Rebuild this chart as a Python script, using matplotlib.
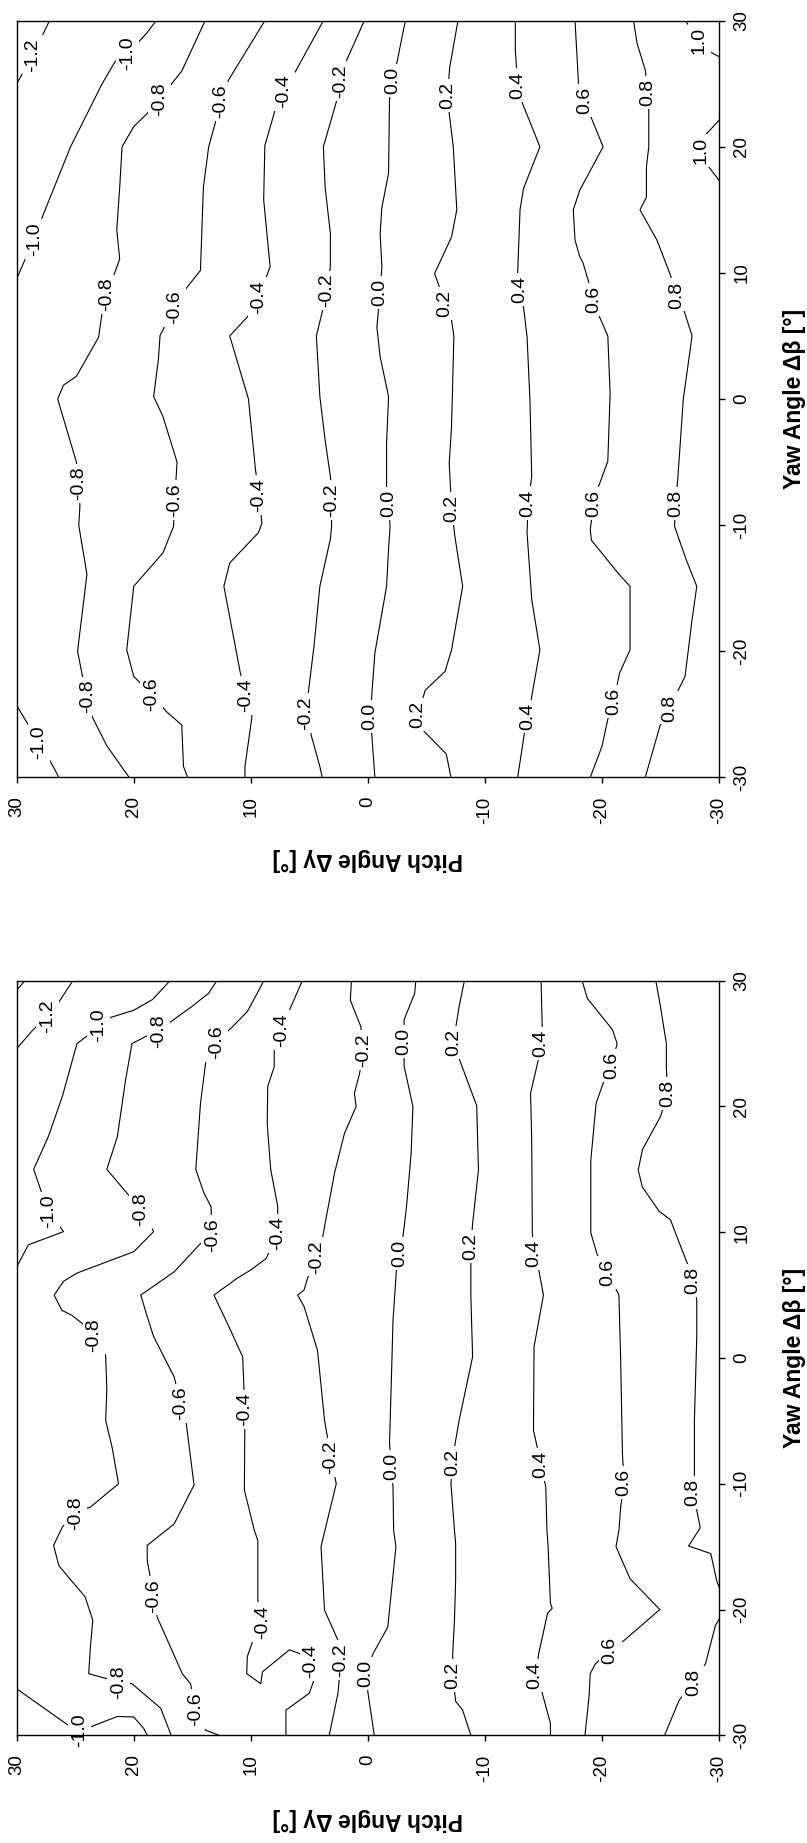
import matplotlib
matplotlib.use("Agg")
import matplotlib.pyplot as plt

plt.rcParams['font.family'] = ['Liberation Sans', 'DejaVu Sans']
plt.rcParams['axes.unicode_minus'] = False

# ---------------------------------------------------------------------------
# Axis ticks
pitch_ticks = [30, 20, 10, 0, -10, -20, -30]
yaw_ticks = [-30, -20, -10, 0, 10, 20, 30]

# ---------------------------------------------------------------------------
# Upper map: isolines of the coefficient, vertices as (yaw, pitch) in degrees
upper_levels = [-1.2, -1.0, -1.0, -0.8, -0.6, -0.4, -0.2, 0.0, 0.2, 0.4, 0.6, 0.8, 1.0, 1.0]
upper_lines = [
    [(30, 27.2), (25, 30)],
    [(30, 18.1), (29.0, 18.9), (26.75, 21.6), (25, 22.7), (20, 25.4), (14.7, 27.7), (10.2, 29.7), (9.5, 30)],
    [(-24.3, 30), (-25.4, 29.3), (-28.6, 27.2), (-30, 26.4)],
    [(30, 13.9), (26, 15.9), (22.6, 18.9), (21.6, 20.0), (20, 21.0), (16.8, 21.2), (13.4, 21.45), (11.1, 21.2),
     (6.9, 22.7), (4.9, 23.0), (1.8, 24.9), (1.1, 26.0), (0, 26.5), (-5, 24.9), (-8.5, 24.6), (-10, 24.7),
     (-13.9, 24.0), (-20, 24.8), (-21.9, 24.4), (-25.3, 23.5), (-27.5, 22.3), (-30, 20.4)],
    [(30, 8.8), (25.3, 11.9), (21.85, 13.05), (20, 13.6), (16.8, 14.05), (10.2, 14.3), (8.8, 15.5), (5.85, 17.3),
     (5.05, 17.75), (3.1, 17.9), (0.2, 18.3), (-1.4, 17.5), (-5, 16.3), (-10.1, 16.6), (-12.2, 17.5),
     (-14.85, 20.0), (-19.9, 20.6), (-22.0, 20.0), (-24.8, 17.2), (-25.85, 15.9), (-29.15, 15.75), (-30, 15.4)],
    [(30, 3.8), (25.95, 6.2), (23.0, 7.9), (20.1, 8.8), (15.8, 8.9), (10.5, 8.35), (6.5, 10.3), (5, 11.8),
     (0, 10.2), (-5.6, 9.6), (-9.85, 9.05), (-10.6, 9.35), (-13.0, 11.8), (-14.85, 12.3), (-21.7, 10.9),
     (-25.2, 9.9), (-29.15, 10.5), (-30, 10.5)],
    [(30, 0.3), (26.9, 1.8), (23.7, 2.65), (20, 3.8), (16.8, 3.65), (13.1, 3.2), (10.5, 3.2), (6.9, 3.9),
     (5, 4.4), (0.2, 4.1), (-3.25, 3.65), (-6.15, 3.2), (-10.1, 3.1), (-11.1, 3.2), (-14.85, 4.1),
     (-19.6, 4.6), (-26.8, 4.8), (-29.15, 4.1), (-30, 3.9)],
    [(30, -3.2), (26.75, -2.5), (23.7, -1.85), (17.9, -1.77), (15.2, -1.2), (13.1, -1.05), (10.5, -1.2),
     (5.7, -0.77), (3.35, -1.05), (0.2, -1.77), (-3.5, -1.6), (-7.2, -1.6), (-10.1, -1.9), (-11.9, -1.77),
     (-14.85, -1.6), (-20.15, -0.6), (-26.8, -0.35), (-30, -0.6)],
    [(30, -7.7), (26.35, -7.0), (22.65, -6.95), (20, -7.3), (15, -7.6), (12.85, -7.15), (9.95, -5.7),
     (6.25, -7.15), (5, -7.35), (-2.2, -7.15), (-5.1, -6.95), (-11, -7.45), (-14.85, -8.1), (-19.9, -7.15),
     (-21.6, -6.6), (-23.1, -4.9), (-26.3, -4.75), (-28.15, -6.7), (-30, -7.1)],
    [(30, -12.6), (27.7, -12.6), (23.7, -13.1), (20, -14.7), (16.7, -13.3), (15, -13.0), (10, -12.8),
     (7.3, -13.3), (4.95, -13.6), (-0.1, -13.85), (-6.15, -14.0), (-10.6, -13.6), (-15.9, -14.0),
     (-19.9, -14.7), (-23.6, -14.0), (-26.35, -13.4), (-30, -12.8)],
    [(30, -17.7), (25, -18.0), (22.5, -19.0), (20, -20.1), (16.55, -18.1), (15, -17.55), (12.6, -17.7),
     (11.3, -18.1), (10.75, -18.4), (6.5, -19.8), (5, -20.5), (0.45, -20.7), (-4.95, -20.5), (-6.95, -19.7),
     (-10.35, -19.0), (-11.2, -19.1), (-13.95, -21.5), (-14.85, -22.4), (-19.9, -22.4), (-21.75, -21.5),
     (-25.4, -20.5), (-27.55, -20.0), (-30, -19.0)],
    [(30, -22.7), (28.2, -23.0), (26.1, -23.7), (22.9, -24.0), (20, -24.0), (18.4, -23.8), (16.0, -23.8),
     (15, -23.25), (12.6, -24.7), (9.95, -25.8), (7.05, -27.0), (5, -27.7), (0, -26.95), (-6.05, -26.5),
     (-10.1, -26.2), (-12.75, -27.2), (-14.85, -28.1), (-17.5, -27.7), (-22, -27.1), (-23.3, -26.4),
     (-25.95, -24.95), (-30, -23.7)],
    [(30, -27.1), (29.65, -27.4), (27.55, -29.2), (27.15, -30)],
    [(22.1, -30), (20.9, -28.8), (18.55, -29.0), (17.35, -30)],
]
# label anchors on each upper isoline, (yaw, pitch)
upper_label_pts = [
    [(27.3, 28.6)],
    [(27.4, 20.5), (12.7, 28.5)],
    [(-27.2, 28.1)],
    [(23.8, 17.8), (8.3, 22.3), (-6.7, 24.7), (-23.6, 23.9)],
    [(23.6, 12.6), (7.3, 16.5), (-8.0, 16.5), (-23.4, 18.5)],
    [(24.4, 7.2), (8.1, 9.3), (-7.6, 9.3), (-23.5, 10.4)],
    [(25.2, 2.3), (8.6, 3.5), (-8.0, 3.1), (-24.9, 5.3)],
    [(25.25, -2.1), (8.45, -1.05), (-8.3, -1.75), (-25.2, -0.2)],
    [(24.1, -6.8), (7.6, -6.6), (-8.65, -7.15), (-25.0, -4.3)],
    [(24.9, -12.8), (8.7, -12.95), (-8.25, -13.7), (-25.2, -13.7)],
    [(23.7, -18.5), (7.9, -19.3), (-8.25, -19.3), (-24.0, -21.0)],
    [(24.3, -23.9), (8.25, -26.4), (-8.25, -26.3), (-24.5, -25.8)],
    [(28.4, -28.3)],
    [(19.7, -28.5)],
]

# ---------------------------------------------------------------------------
# Lower map
lower_levels = [-1.4, -1.2, -1.0, -1.0, -0.8, -0.6, -0.4, -0.2, 0.0, 0.2, 0.4, 0.6, 0.8, 0.8]
lower_lines = [
    [(29.25, 30), (30, 29.3)],
    [(30, 25.2), (28.3, 26.4), (26.1, 28.6), (24.6, 30)],
    [(30, 16.9), (28.5, 18.4), (27.65, 20.0), (27.1, 21.9), (25.7, 23.85), (25.0, 24.85), (23.15, 25.4),
     (20.8, 26.1), (17.6, 27.3), (15.0, 28.55), (13.1, 27.85), (10.05, 26.0), (9.0, 29.0), (7.25, 30)],
    [(-26.3, 30), (-29.2, 25.6), (-29.3, 23.6), (-28.5, 21.4), (-28.55, 20.0), (-29.45, 19.15), (-30, 18.85)],
    [(30, 12.9), (29.0, 13.6), (27.9, 15.1), (26.9, 16.6), (25.55, 19.0), (25.0, 20.15), (22.1, 20.7),
     (17.6, 21.4), (15.0, 22.3), (12.8, 20.3), (10.05, 18.3), (8.45, 20.0), (7.65, 22.3), (6.75, 24.85),
     (6.1, 26.0), (5.0, 26.8), (3.8, 26.15), (3.4, 25.3), (2.75, 24.4), (0.2, 22.4), (-2.55, 22.3),
     (-4.95, 22.4), (-7.1, 21.85), (-10.0, 21.3), (-11.85, 23.7), (-13.45, 26.1), (-14.9, 26.85),
     (-16.5, 26.4), (-17.4, 25.6), (-19.0, 24.15), (-20.85, 23.5), (-22.95, 23.7), (-25.1, 23.85),
     (-25.5, 22.3), (-25.9, 20.15), (-27.85, 17.7), (-30, 16.8)],
    [(30, 8.9), (29.0, 9.45), (27.55, 10.3), (26.35, 11.55), (25.7, 12.3), (23.55, 13.85), (20.25, 14.3),
     (15.0, 14.7), (13.1, 14.0), (12.05, 13.4), (9.1, 14.3), (6.85, 16.55), (5.0, 19.4), (3.3, 18.85),
     (1.7, 18.3), (-1.5, 16.55), (-4.95, 15.55), (-10.1, 14.85), (-13.2, 16.55), (-14.9, 18.85),
     (-16.1, 18.85), (-20.6, 18.0), (-25.1, 15.85), (-25.9, 15.15), (-29.6, 13.85), (-30, 12.7)],
    [(30, 5.6), (27.65, 6.7), (24.5, 8.0), (23.15, 8.0), (21.6, 8.55), (18.65, 8.6), (15.0, 8.3),
     (12.05, 7.7), (7.9, 8.7), (7.0, 10.0), (6.35, 11.15), (5.0, 13.15), (2.75, 12.0), (0.1, 10.7),
     (-10.5, 10.55), (-13.7, 9.7), (-14.5, 9.4), (-19.25, 9.4), (-22.55, 9.85), (-23.75, 10.3),
     (-25.1, 10.35), (-25.9, 9.15), (-24.95, 9.0), (-23.2, 6.7), (-23.5, 5.85), (-25.6, 4.6),
     (-26.65, 5.0), (-28.0, 7.0), (-30, 7.0)],
    [(30, 1.4), (28.45, 1.5), (26.35, 0.6), (22.65, 0.7), (21.05, 1.15), (20.0, 1.0), (17.85, 2.0),
     (14.7, 2.85), (10.45, 3.7), (9.65, 3.85), (6.35, 5.15), (5.4, 5.45), (5.0, 6.0), (4.1, 5.45),
     (0.6, 4.3), (-4.95, 3.7), (-10.0, 2.7), (-13.45, 3.6), (-15.0, 4.0), (-20.05, 3.7), (-22.45, 2.55),
     (-26.65, 2.55), (-30, 3.3)],
    [(30, -4.1), (29.0, -4.0), (26.9, -3.1), (23.2, -3.1), (20.0, -3.85), (16.3, -3.7), (12.0, -3.3),
     (9.65, -3.0), (7.15, -2.45), (3.0, -2.15), (-2.05, -2.0), (-6.8, -1.85), (-10.25, -2.15),
     (-13.7, -2.2), (-15.0, -2.4), (-21.4, -1.7), (-23.5, -0.45), (-26.55, 0.0), (-30, -0.55)],
    [(30, -8.25), (27.95, -7.8), (23.8, -7.8), (20.05, -9.3), (14.95, -9.45), (10.7, -8.95), (7.4, -8.8),
     (4.9, -8.8), (0.1, -8.95), (-4.95, -7.8), (-7.1, -7.4), (-10.0, -7.1), (-13.7, -7.4), (-14.75, -7.5),
     (-17.65, -7.5), (-20.85, -7.4), (-23.5, -7.25), (-27.3, -7.5), (-28.0, -8.1), (-30, -8.8)],
    [(30, -14.8), (26.2, -14.9), (23.45, -14.5), (21.05, -13.9), (17.35, -14.0), (9.95, -14.05),
     (7.0, -14.6), (5.0, -15.0), (0.9, -14.2), (-5.75, -14.15), (-10.25, -15.2), (-13.7, -15.3),
     (-15.0, -15.4), (-19.5, -15.6), (-19.9, -15.75), (-20.3, -15.35), (-23.5, -14.6), (-26.65, -14.9),
     (-29.05, -15.6), (-30, -15.6)],
    [(30, -18.3), (28.6, -18.75), (26.1, -20.9), (25.0, -21.3), (22.1, -20.2), (20.25, -19.5),
     (15.75, -19.05), (9.95, -19.05), (8.2, -19.6), (5.0, -21.45), (-0.15, -21.6), (-7.6, -21.75),
     (-11.85, -21.6), (-13.7, -21.45), (-15.0, -21.2), (-17.55, -22.4), (-20.0, -24.95), (-22.45, -21.9),
     (-24.3, -19.45), (-25.1, -19.0), (-26.9, -18.9), (-30, -18.55)],
    [(30, -24.6), (27.95, -25.0), (25.0, -25.5), (23.15, -25.5), (19.2, -25.0), (16.55, -23.45),
     (14.95, -23.1), (13.6, -23.45), (11.65, -24.9), (11.0, -25.85), (9.65, -26.4), (7.5, -27.3),
     (4.6, -28.1), (1.7, -28.1), (-4.95, -27.9), (-9.2, -27.9), (-13.5, -28.4), (-14.95, -27.4),
     (-15.55, -29.3), (-17.7, -29.8), (-18.2, -30)],
    [(-20.8, -30), (-21.25, -29.7), (-24.3, -28.85), (-27.2, -26.6), (-30, -25.35)],
]
lower_label_pts = [
    [],
    [(27.15, 27.4)],
    [(26.5, 23.0), (11.65, 27.3)],
    [(-29.6, 24.6)],
    [(26.0, 17.85), (11.8, 19.4), (1.8, 23.4), (-12.3, 25.0), (-25.8, 21.3)],
    [(25.1, 12.9), (9.8, 13.3), (-3.6, 16.0), (-18.9, 18.3), (-27.9, 14.7)],
    [(26.1, 7.4), (9.9, 7.7), (-4.1, 10.5), (-21.0, 9.0), (-24.1, 4.85)],
    [(24.5, 0.4), (8.05, 4.4), (-7.9, 3.15), (-24.0, 2.3)],
    [(25.2, -3.1), (8.3, -2.7), (-8.6, -2.0), (-25.1, 0.15)],
    [(25.1, -7.3), (8.85, -8.8), (-8.3, -7.25), (-25.25, -7.25)],
    [(25.0, -14.8), (8.3, -14.2), (-8.45, -14.8), (-25.25, -14.3)],
    [(23.25, -20.8), (6.8, -20.5), (-9.9, -21.9), (-23.25, -20.7)],
    [(21.0, -25.6), (6.15, -27.8), (-10.7, -27.8)],
    [(-25.8, -27.85)],
]


def seg_dist(q, a, b):
    (qy, qp), (ay, ap), (by, bp) = q, a, b
    dy, dp = by - ay, bp - ap
    L2 = dy * dy + dp * dp
    t = 0.0 if L2 == 0 else max(0.0, min(1.0, ((qy - ay) * dy + (qp - ap) * dp) / L2))
    cy, cp = ay + t * dy, ap + t * dp
    return ((qy - cy) ** 2 + (qp - cp) ** 2) ** 0.5


def with_labels(verts, marks):
    """Route the isoline through each label anchor so the label sits on it."""
    pts = list(verts)
    for m in marks:
        best = min(range(len(pts) - 1), key=lambda i: seg_dist(m, pts[i], pts[i + 1]))
        pts.insert(best + 1, m)
    return pts


def draw_map(ax, levels, lines, label_pts):
    ax.set_xlim(30, -30)
    ax.set_ylim(-30, 30)
    for lvl, verts, marks in zip(levels, lines, label_pts):
        pts = with_labels(verts, marks)
        ax.plot([p for _, p in pts], [y for y, _ in pts], color='black', lw=0.8, zorder=2)
        for y, p in marks:
            ax.text(p, y, f"{lvl:.1f}", rotation=90, ha='center', va='center',
                    fontsize=14, zorder=3, clip_on=False,
                    bbox=dict(boxstyle='square,pad=0.15', fc='white', ec='none'))

    ax.set_xticks(pitch_ticks, labels=[str(v) for v in pitch_ticks])
    ax.set_yticks(yaw_ticks, labels=[str(v) for v in yaw_ticks])
    ax.yaxis.tick_right()
    ax.tick_params(axis='x', direction='out', length=4.3, width=1.0, labelsize=13.5,
                   pad=9.5, labelrotation=90, top=False, bottom=True)
    ax.tick_params(axis='y', direction='out', length=4.3, width=1.0, labelsize=13.5,
                   pad=6.0, labelrotation=90, left=False, right=True,
                   labelleft=False, labelright=True)
    for t in ax.get_yticklabels():
        t.set_verticalalignment('center')
    for sp in ax.spines.values():
        sp.set_linewidth(1.0)
        sp.set_zorder(5)

    ax.set_xlabel('Pitch Angle Δγ [°]', fontsize=16.5, fontweight='bold',
                  rotation=180, ha='center', va='center')
    ax.yaxis.set_label_position('right')
    ax.set_ylabel('Yaw Angle Δβ [°]', fontsize=16.5, fontweight='bold',
                  rotation=90, ha='center', va='center')
    ax.yaxis.set_label_coords(1.1068, 0.5)


W, H = 807, 1843
fig = plt.figure(figsize=(W / 100, H / 100), dpi=100, facecolor='white')

left = 16.7 / W
width = (719.0 - 16.7) / W

ax_top = fig.add_axes([left, 1 - 777.3 / H, width, (777.3 - 20.7) / H])
draw_map(ax_top, upper_levels, upper_lines, upper_label_pts)
ax_top.xaxis.set_label_coords(0.5, -0.108)

ax_bot = fig.add_axes([left, 1 - 1735.3 / H, width, (1735.3 - 980.7) / H])
draw_map(ax_bot, lower_levels, lower_lines, lower_label_pts)
ax_bot.xaxis.set_label_coords(0.5, -0.111)

fig.savefig('out.png', dpi=100, facecolor='white')
